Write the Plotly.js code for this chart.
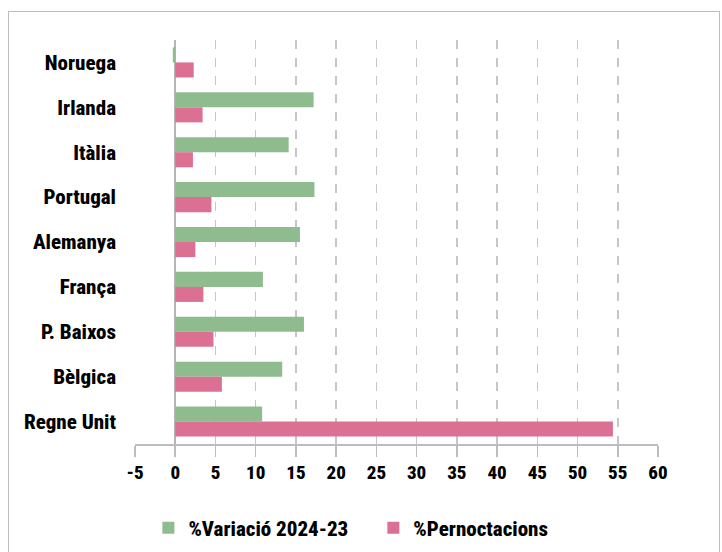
<!DOCTYPE html>
<html><head><meta charset="utf-8">
<script src="https://cdn.plot.ly/plotly-3.0.1.min.js"></script>
<style>
html,body{margin:0;padding:0;background:#fff;}
#frame{position:absolute;left:8px;top:11px;width:712px;height:560px;border:1px solid #bdbdbd;box-sizing:border-box;}
#chart{position:absolute;left:0;top:0;width:722px;height:552px;}
#chart text{font-stretch:62.5% !important;}
</style></head>
<body>
<div id="frame"></div>
<div id="chart"></div>
<script>
const categories = ["Noruega","Irlanda","Itàlia","Portugal","Alemanya","França","P. Baixos","Bèlgica","Regne Unit"];
const variacio = [-0.3, 17.2, 14.1, 17.3, 15.5, 10.9, 16.0, 13.3, 10.8];
const pernoctacions = [2.3, 3.4, 2.2, 4.5, 2.5, 3.5, 4.75, 5.8, 54.4];
const seriesNames = ["%Variació 2024-23", "%Pernoctacions"];
const tickVals = [-5,0,5,10,15,20,25,30,35,40,45,50,55,60];

const FONT = 'Roboto';

const data = [
  {type:'bar', orientation:'h', name:seriesNames[0], y:categories, x:variacio,
   marker:{color:'#8fbc8f'}, hoverinfo:'x+y'},
  {type:'bar', orientation:'h', name:seriesNames[1], y:categories, x:pernoctacions,
   marker:{color:'#db7093'}, hoverinfo:'x+y'}
];

const layout = {
  width:722, height:552,
  paper_bgcolor:'rgba(0,0,0,0)', plot_bgcolor:'rgba(0,0,0,0)',
  margin:{l:134.5, r:64, t:40, b:108, autoexpand:false},
  barmode:'group', bargap:0.33, bargroupgap:0,
  font:{family:FONT, color:'#000', weight:800},
  showlegend:true,
  legend:{orientation:'h', x:0.43, xanchor:'center', y:-0.208, yanchor:'middle',
          font:{family:FONT, size:21, color:'#000', weight:800}, itemwidth:30, traceorder:'normal'},
  xaxis:{range:[-5,60], tickvals:tickVals, ticktext:tickVals.map(String),
         showgrid:true, gridcolor:'#c6c6c6', griddash:'dash', gridwidth:1.5,
         zeroline:true, zerolinecolor:'#b5b5b5', zerolinewidth:1.5,
         showline:true, linecolor:'#bdbdbd', linewidth:1.5,
         ticks:'outside', ticklen:11, tickcolor:'#bdbdbd', tickwidth:1.5,
         tickfont:{family:FONT, size:19, color:'#000', weight:800}, fixedrange:true},
  yaxis:{autorange:'reversed', type:'category', showgrid:false, zeroline:false, showline:false,
         ticks:'', ticklabelstandoff:18,
         tickfont:{family:FONT, size:21, color:'#000', weight:800}, fixedrange:true}
};

Plotly.newPlot('chart', data, layout, {displayModeBar:false, staticPlot:true});
</script>
</body></html>
